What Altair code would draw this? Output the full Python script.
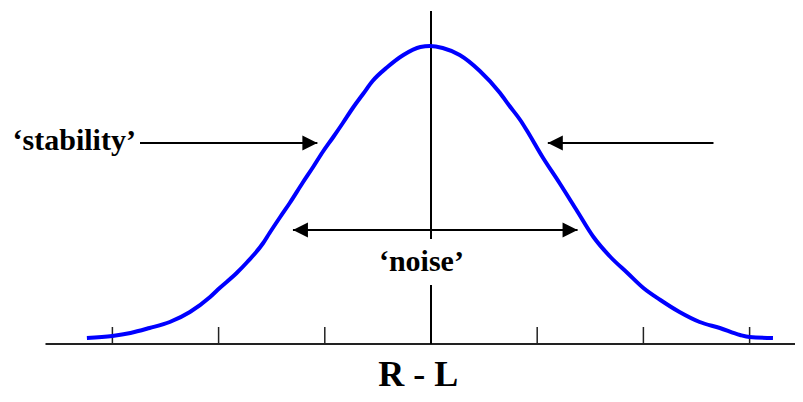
import altair as alt
import pandas as pd

# ---- data (x in tick units, y in height units above the axis) ----
curve_x = [-3.24, -3.00, -2.83, -2.65, -2.46, -2.27, -2.08, -1.99, -1.83, -1.73, -1.58,
           -1.52, -1.42, -1.33, -1.21, -1.11, -1.02, -0.92, -0.83, -0.73, -0.64, -0.55,
           -0.41, -0.26, -0.10,
           -0.01, 0.11, 0.27, 0.46, 0.65, 0.74, 0.84, 0.90, 1.05, 1.21, 1.37, 1.53,
           1.69, 1.85, 2.00, 2.16, 2.34, 2.53, 2.72, 2.91, 3.00, 3.22]
curve_y = [6, 8, 11, 16, 22, 32, 47, 56, 71, 82, 101,
           111, 127, 141, 161, 177, 192, 207, 221, 237, 250, 263,
           277, 289, 297,
           298, 296, 289, 273, 251, 238, 224, 214, 187, 161, 134, 107,
           87, 71, 56, 44, 32, 22, 16, 9, 7, 6]

tick_positions = [-3, -2, -1, 0, 1, 2, 3]
tick_height = [17]

axis_start = [-3.63]
axis_end = [3.4275]

center_top = [333, 59]
center_bottom = [105, 0]

arrow_from = [-2.74, 2.66, -1.30]
arrow_to = [-1.07, 1.10, 1.38]
arrow_level = [201, 201, 114]

head_x = [-1.07, 1.10, -1.30, 1.38]
head_y = [201, 201, 114, 114]
head_dir = ["right", "left", "left", "right"]

labels = ["\u2018stability\u2019", "\u2018noise\u2019", "R - L"]
label_x = [-3.94, -0.09, -0.12]
label_y = [194, 73, -42]
label_align = ["left", "center", "center"]
label_size = [30, 30, 36]

# ---- scales ----
xs = alt.Scale(domain=[-3.983, 3.4275], nice=False, zero=False)
ys = alt.Scale(domain=[-50, 336], nice=False, zero=False)


def X(f):
    return alt.X(f, type="quantitative", scale=xs, axis=None)


def Y(f):
    return alt.Y(f, type="quantitative", scale=ys, axis=None)


axis_df = pd.DataFrame({"x": axis_start, "x2": axis_end, "y": [0]})
axis_line = alt.Chart(axis_df).mark_rule(color="#222222", strokeWidth=2).encode(
    x=X("x"), x2="x2", y=Y("y"))

tick_df = pd.DataFrame({"x": tick_positions, "y": [0] * len(tick_positions),
                        "y2": tick_height * len(tick_positions)})
ticks = alt.Chart(tick_df).mark_rule(color="#222222", strokeWidth=1.5).encode(
    x=X("x"), y=Y("y"), y2="y2")

center_df = pd.DataFrame({"x": [0, 0], "y": center_top, "y2": center_bottom})
center = alt.Chart(center_df).mark_rule(color="black", strokeWidth=2).encode(
    x=X("x"), y=Y("y"), y2="y2")

curve_df = pd.DataFrame({"x": curve_x, "y": curve_y})
curve = alt.Chart(curve_df).mark_line(color="#0000FF", strokeWidth=4,
                                      interpolate="monotone").encode(
    x=X("x"), y=Y("y"))

arrow_df = pd.DataFrame({"x": arrow_from, "x2": arrow_to, "y": arrow_level})
arrows = alt.Chart(arrow_df).mark_rule(color="black", strokeWidth=2).encode(
    x=X("x"), x2="x2", y=Y("y"))

head_df = pd.DataFrame({"x": head_x, "y": head_y, "d": head_dir})
heads_r = alt.Chart(head_df[head_df.d == "right"]).mark_point(
    shape="M0,0L-2,-1L-2,1Z", size=225, filled=True, color="black", opacity=1,
    strokeWidth=0).encode(x=X("x"), y=Y("y"))
heads_l = alt.Chart(head_df[head_df.d == "left"]).mark_point(
    shape="M0,0L2,-1L2,1Z", size=225, filled=True, color="black", opacity=1,
    strokeWidth=0).encode(x=X("x"), y=Y("y"))

text_layers = []
for t, tx, ty, al, fs in zip(labels, label_x, label_y, label_align, label_size):
    df = pd.DataFrame({"x": [tx], "y": [ty], "t": [t]})
    text_layers.append(
        alt.Chart(df).mark_text(font="Liberation Serif", fontWeight="bold",
                                fontSize=fs, align=al, baseline="alphabetic",
                                color="black").encode(x=X("x"), y=Y("y"), text="t:N"))

chart = alt.layer(axis_line, ticks, center, curve, arrows, heads_r, heads_l,
                  *text_layers).properties(
    width=787, height=386, padding=0,
    autosize=alt.AutoSizeParams(type="none"),
    background="white",
).configure_view(stroke=None)

chart.save("out.html", embed_options={"renderer": "svg", "actions": False})
